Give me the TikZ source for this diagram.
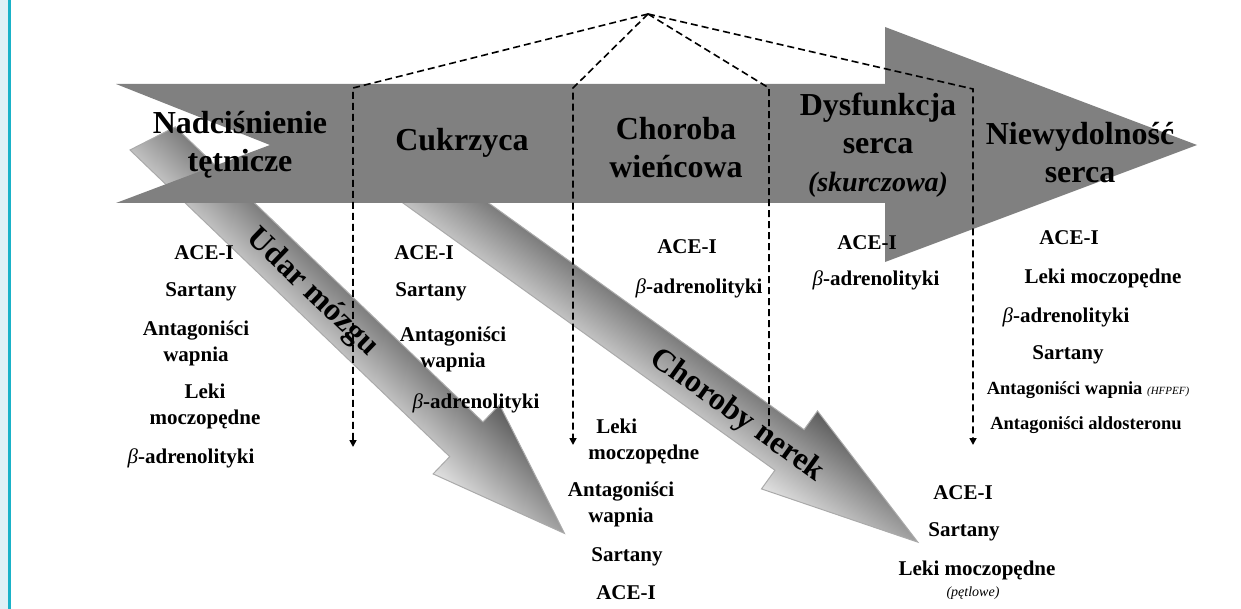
\documentclass[tikz,border=0pt]{standalone}
\usepackage{fontspec}
\setmainfont{Liberation Serif}
\usetikzlibrary{arrows.meta}
\definecolor{stripblue}{RGB}{222,241,246}
\definecolor{stripcyan}{RGB}{25,178,200}
\definecolor{arrowgray}{RGB}{128,128,128}
\definecolor{shadelight}{RGB}{226,226,226}
\definecolor{shademid}{RGB}{158,158,158}
\definecolor{shadedark}{RGB}{92,92,92}
\definecolor{edgegray}{RGB}{170,170,170}
\newcommand{\betait}{{\mdseries\itshape β}}
\tikzset{
  mainarrow/.style={fill=arrowgray, draw=none},
  sidearrow/.style={
    draw=edgegray,
    line width=0.5pt,
    top color=shadedark,
    middle color=shademid,
    bottom color=shadelight
  },
  phase/.style={font=\fontsize{16}{19}\selectfont\bfseries, align=center, inner sep=0pt},
  organ/.style={font=\fontsize{16}{19}\selectfont\bfseries, inner sep=0pt},
  drug/.style={font=\fontsize{10.5}{13}\selectfont\bfseries, align=center, inner sep=0pt},
  smalldrug/.style={font=\fontsize{9.25}{11}\selectfont\bfseries, align=center, inner sep=0pt},
  dashflow/.style={draw=black, line width=0.8pt, dash pattern=on 3.5pt off 2pt},
  dashtip/.style={dashflow, -{Triangle[length=3.5pt,width=3.5pt]}}
}

\begin{document}
\begin{tikzpicture}[x=0.5pt,y=-0.5pt]
  \useasboundingbox (0,0) rectangle (1241,609);
  \fill[white] (0,0) rectangle (1241,609);
  \fill[stripblue] (0,0) rectangle (8,609);
  \fill[stripcyan] (8,0) rectangle (11,609);

  \begin{scope}[transform canvas={shift={(130,150)},rotate=-43.8}]
    \shade[sidearrow] (0,0) -- (16.6,-48) -- (443,-48) -- (443,-72) -- (579,-24)
      -- (443,24) -- (443,0) -- cycle;
  \end{scope}
  \begin{scope}[transform canvas={shift={(403,203)},rotate=-35.7}]
    \shade[sidearrow] (-100,0) -- (-100,-50) -- (458,-50) -- (458,-73) -- (616,-25)
      -- (458,23) -- (458,0) -- cycle;
  \end{scope}

  \fill[mainarrow] (116,84) -- (885,84) -- (885,27) -- (1197,145) -- (885,262)
    -- (885,203) -- (116,203) -- (270,145) -- cycle;

  \coordinate (apex) at (648,14);
  \coordinate (bend1) at (353,88);
  \coordinate (end1) at (353,447);
  \coordinate (bend2) at (573,88);
  \coordinate (end2) at (573,445);
  \coordinate (bend3) at (769,88);
  \coordinate (end3) at (769,436);
  \coordinate (bend4) at (973,89);
  \coordinate (end4) at (973,445);
  \draw[dashtip] (apex) -- (bend1) -- (end1);
  \draw[dashtip] (apex) -- (bend2) -- (end2);
  \draw[dashflow] (apex) -- (bend3) -- (end3);
  \draw[dashtip] (apex) -- (bend4) -- (end4);

  \node[phase] (nadc) at (240,145) {Nadciśnienie\\tętnicze};
  \node[phase] (cukr) at (462,143) {Cukrzyca};
  \node[phase] (wienc) at (676,148) {Choroba\\wieńcowa};
  \node[phase] (dysf) at (878,145) {Dysfunkcja\\serca\\{\fontsize{14}{17}\selectfont\itshape (skurczowa)}};
  \node[phase] (niew) at (1080,153) {Niewydolność\\serca};

  \node[organ, rotate=-43.8] (udar) at (312,293) {Udar mózgu};
  \node[organ, rotate=-35.7] (nerki) at (737,416) {Choroby nerek};

  \node[drug] (ace1) at (204,253) {ACE-I};
  \node[drug] (sart1) at (201,292) {Sartany};
  \node[drug] (anta1) at (196,343) {Antagoniści\\wapnia};
  \node[drug] (leki1) at (205,406) {Leki\\moczopędne};
  \node[drug] (beta1) at (191,458) {\betait-adrenolityki};

  \node[drug] (ace2) at (424,253) {ACE-I};
  \node[drug] (sart2) at (431,292) {Sartany};
  \node[drug] (anta2) at (453,349) {Antagoniści\\wapnia};
  \node[drug] (beta2) at (476,403) {\betait-adrenolityki};

  \node[drug] (ace3) at (687,247) {ACE-I};
  \node[drug] (beta3) at (699,288) {\betait-adrenolityki};
  \node[drug, align=left, anchor=west] (leki3) at (588,441) {\hspace{4pt}Leki\\moczopędne};
  \node[drug] (anta3) at (621,504) {Antagoniści\\wapnia};
  \node[drug] (sart3) at (627,557) {Sartany};
  \node[drug] (ace3b) at (626,593) {ACE-I};

  \node[drug] (ace4) at (867,243) {ACE-I};
  \node[drug] (beta4) at (876,280) {\betait-adrenolityki};

  \node[drug] (ace5) at (1069,238) {ACE-I};
  \node[drug] (leki5) at (1103,278) {Leki moczopędne};
  \node[drug] (beta5) at (1066,317) {\betait-adrenolityki};
  \node[drug] (sart5) at (1068,355) {Sartany};
  \node[smalldrug] (anta5) at (1088,390) {Antagoniści wapnia {\mdseries\itshape\fontsize{5.5}{6}\selectfont (HFPEF)}};
  \node[smalldrug] (aldo5) at (1086,425) {Antagoniści aldosteronu};

  \node[drug] (ace6) at (963,493) {ACE-I};
  \node[drug] (sart6) at (964,532) {Sartany};
  \node[drug] (leki6) at (977,570) {Leki moczopędne};
  \node[drug, font=\fontsize{7}{8}\selectfont\itshape] (petl6) at (973,593) {(pętlowe)};
\end{tikzpicture}
\end{document}
